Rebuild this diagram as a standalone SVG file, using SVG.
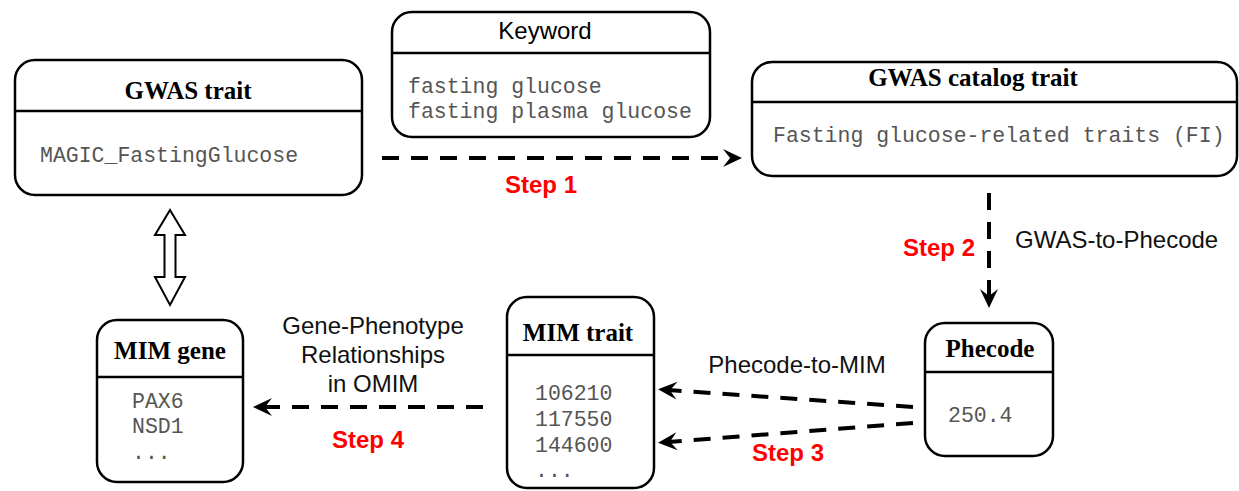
<svg xmlns="http://www.w3.org/2000/svg" width="1239" height="491" viewBox="0 0 1239 491">
<style>
.box{fill:#fff;stroke:#000;stroke-width:2.5}
.div{stroke:#000;stroke-width:2.5}
.title{font-family:"Liberation Serif",serif;font-weight:bold;font-size:25px;fill:#000;text-anchor:middle}
.stitle{font-family:"Liberation Sans",sans-serif;font-size:24px;fill:#000;text-anchor:middle}
.mono{font-family:"Liberation Mono",monospace;font-size:21.5px;fill:#555}
.lbl{font-family:"Liberation Sans",sans-serif;font-size:24px;fill:#111}
.step{font-family:"Liberation Sans",sans-serif;font-weight:bold;font-size:24px;fill:#ff0000}
.dash{fill:none;stroke:#000;stroke-width:4;stroke-dasharray:17 12}
</style>
<defs>
<marker id="ah" markerUnits="userSpaceOnUse" viewBox="-22 -11 24 22" refX="-10" refY="0" markerWidth="24" markerHeight="22" orient="auto">
<path d="M0,0 L-19,-9 L-12,0 L-19,9 Z" fill="#000"/>
</marker>
</defs>

<g id="gwas-trait">
<rect class="box" x="15" y="60" width="347" height="135" rx="20"/>
<line class="div" x1="15" y1="111" x2="362" y2="111"/>
<text class="title" x="188" y="99">GWAS trait</text>
<text class="mono" x="40" y="162">MAGIC_FastingGlucose</text>
</g>

<g id="keyword">
<rect class="box" x="392" y="12" width="318" height="125" rx="20"/>
<line class="div" x1="392" y1="53" x2="710" y2="53"/>
<text class="stitle" x="545" y="39">Keyword</text>
<text class="mono" x="408" y="93">fasting glucose</text>
<text class="mono" x="408" y="118">fasting plasma glucose</text>
</g>

<g id="gwas-catalog-trait">
<rect class="box" x="752" y="62" width="485" height="114" rx="20"/>
<line class="div" x1="752" y1="102" x2="1237" y2="102"/>
<text class="title" x="973" y="86">GWAS catalog trait</text>
<text class="mono" x="773" y="142">Fasting glucose-related traits (FI)</text>
</g>

<g id="phecode">
<rect class="box" x="925" y="323" width="128" height="133" rx="20"/>
<line class="div" x1="925" y1="372" x2="1053" y2="372"/>
<text class="title" x="990" y="357">Phecode</text>
<text class="mono" x="948" y="422">250.4</text>
</g>

<g id="mim-trait">
<rect class="box" x="507" y="297" width="147" height="191" rx="20"/>
<line class="div" x1="507" y1="355" x2="654" y2="355"/>
<text class="title" x="578" y="341">MIM trait</text>
<text class="mono" x="535" y="400">106210</text>
<text class="mono" x="535" y="426">117550</text>
<text class="mono" x="535" y="452">144600</text>
<text class="mono" x="535" y="477">...</text>
</g>

<g id="mim-gene">
<rect class="box" x="97" y="320" width="146" height="162" rx="20"/>
<line class="div" x1="97" y1="377" x2="243" y2="377"/>
<text class="title" x="170" y="359">MIM gene</text>
<text class="mono" x="132" y="408">PAX6</text>
<text class="mono" x="132" y="433">NSD1</text>
<text class="mono" x="132" y="459">...</text>
</g>

<g id="connectors">
<path class="dash" d="M382,158 L732,158" marker-end="url(#ah)"/>
<path class="dash" d="M989,193 L989,298" marker-end="url(#ah)"/>
<path class="dash" d="M913,407 L668,390" marker-end="url(#ah)"/>
<path class="dash" d="M913,423 L668,442" marker-end="url(#ah)"/>
<path class="dash" d="M483,407 L263,407" marker-end="url(#ah)"/>
<path d="M170,210 L185,235 L175.5,235 L175.5,277 L185,277 L170,305 L155,277 L164.5,277 L164.5,235 L155,235 Z" fill="#fff" stroke="#000" stroke-width="2"/>
<text class="step" x="505" y="193">Step 1</text>
<text class="step" x="975" y="256" text-anchor="end">Step 2</text>
<text class="lbl" x="1015" y="248">GWAS-to-Phecode</text>
<text class="lbl" x="797" y="373" text-anchor="middle">Phecode-to-MIM</text>
<text class="step" x="788" y="461" text-anchor="middle">Step 3</text>
<text class="lbl" x="373" y="334" text-anchor="middle">Gene-Phenotype</text>
<text class="lbl" x="373" y="363" text-anchor="middle">Relationships</text>
<text class="lbl" x="373" y="392" text-anchor="middle">in OMIM</text>
<text class="step" x="368" y="448" text-anchor="middle">Step 4</text>
</g>
</svg>
